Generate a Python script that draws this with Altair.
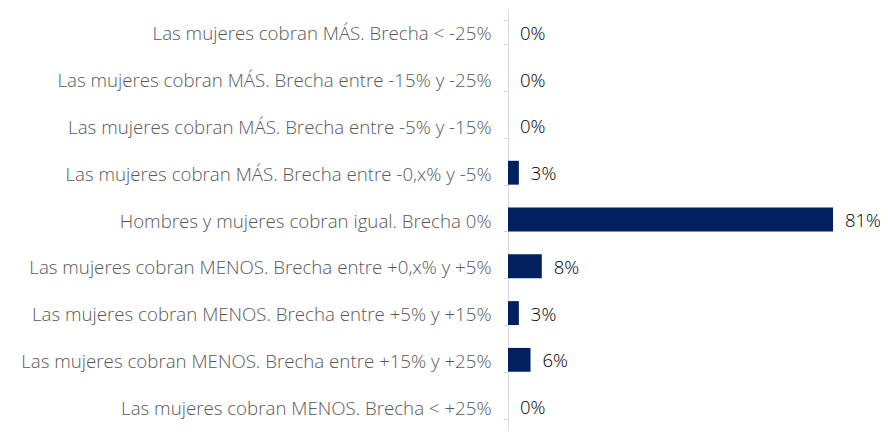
import altair as alt
import pandas as pd

categories = [
    "Las mujeres cobran MÁS. Brecha < -25%",
    "Las mujeres cobran MÁS. Brecha entre -15% y -25%",
    "Las mujeres cobran MÁS. Brecha entre -5% y -15%",
    "Las mujeres cobran MÁS. Brecha entre -0,x% y -5%",
    "Hombres y mujeres cobran igual. Brecha 0%",
    "Las mujeres cobran MENOS. Brecha entre +0,x% y +5%",
    "Las mujeres cobran MENOS. Brecha entre +5% y +15%",
    "Las mujeres cobran MENOS. Brecha entre +15% y +25%",
    "Las mujeres cobran MENOS. Brecha < +25%",
]
values = [0, 0, 0, 2.7, 80.8, 8.4, 2.7, 5.6, 0]
labels = ["0%", "0%", "0%", "3%", "81%", "8%", "3%", "6%", "0%"]

df = pd.DataFrame({"cat": categories, "val": values, "lab": labels})

FONT = "Open Sans"

y_enc = alt.Y(
    "cat:N",
    sort=categories,
    title=None,
    scale=alt.Scale(paddingInner=0.49, paddingOuter=0.245),
    axis=alt.Axis(
        domainColor="#d9d9d9",
        tickColor="#d9d9d9",
        tickSize=5,
        tickBand="extent",
        labelFont=FONT,
        labelFontSize=18.7,
        labelFontWeight=300,
        labelColor="#595959",
        labelPadding=12,
        labelLimit=600,
        labelOffset=1.5,
    ),
)
x_enc = alt.X("val:Q", axis=None, scale=alt.Scale(domain=[0, 90], nice=False))

bars = alt.Chart(df).mark_bar(color="#002060").encode(x=x_enc, y=y_enc)
text = alt.Chart(df).mark_text(
    align="left", baseline="middle", dx=12, dy=1.5, font=FONT, fontSize=18.5,
    fontWeight=300, color="#000000"
).encode(x=x_enc, y=y_enc, text="lab:N")

chart = (
    alt.layer(bars, text)
    .properties(
        width=362,
        height=421,
        autosize=alt.AutoSizeParams(type="none"),
        padding={"left": 500, "top": 1, "right": 10, "bottom": 2},
    )
    .configure_view(stroke=None)
)

chart.save("out.html", embed_options={"renderer": "svg", "actions": False})
